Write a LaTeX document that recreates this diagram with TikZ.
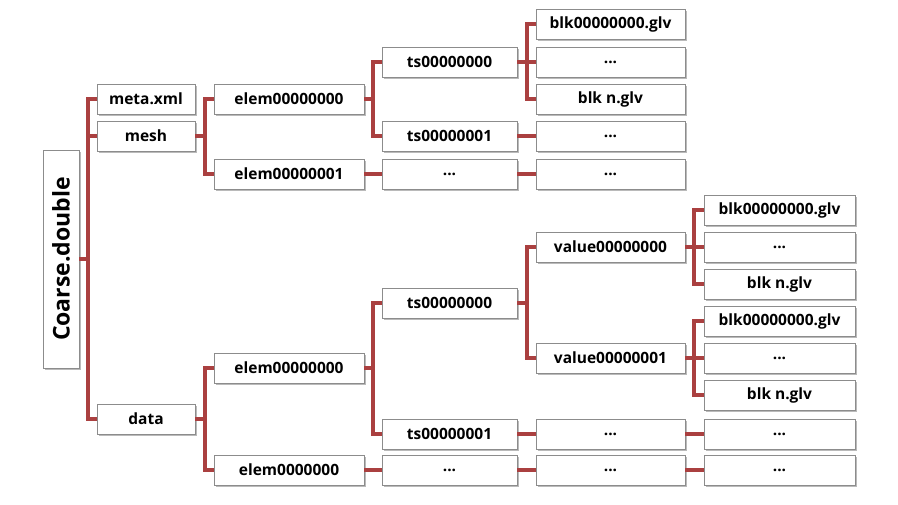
\documentclass[tikz,border=0pt]{standalone}
\usepackage{fontspec}
\setmainfont{Open Sans}
\usetikzlibrary{shadows}
\definecolor{conncol}{RGB}{170,64,64}
\definecolor{boxline}{RGB}{140,140,140}
\tikzset{
  box/.style={draw=boxline, line width=0.8pt, fill=white, minimum height=30pt, inner sep=0pt,
    font=\fontsize{15.5pt}{17pt}\selectfont\bfseries,
    drop shadow={shadow xshift=1.5pt, shadow yshift=-1.8pt, opacity=0.45, fill=black!60}},
  wA/.style={box, minimum width=98pt},
  wB/.style={box, minimum width=150pt},
  wC/.style={box, minimum width=135pt},
  wD/.style={box, minimum width=149pt},
  wE/.style={box, minimum width=151pt},
  conn/.style={draw=conncol, line width=3.3pt},
  bus/.style={conn, line cap=rect},
}
\newcommand\forkto[5]{%
  \draw[conn] (#1.east) -- (#1.east -| #2);
  \draw[bus] (#3.west -| #2) -- (#4.west -| #2);
  \foreach \cc in {#5} {\draw[conn] (\cc.west -| #2) -- (\cc.west);}
}
\begin{document}
\begin{tikzpicture}[x=1pt,y=-1pt]
\useasboundingbox (0,0) rectangle (898,505);
% bus x positions
\coordinate (b0) at (88,0);
\coordinate (b1) at (205,0);
\coordinate (b2) at (373,0);
\coordinate (b3) at (527,0);
\coordinate (b4) at (694,0);
% root
\node[box, minimum width=218pt, minimum height=36pt, rotate=90, font=\fontsize{23pt}{25pt}\selectfont\bfseries] (root) at (61,259) {Coarse.double};
% level 1
\node[wA] (meta) at (146,99) {meta.xml};
\node[wA] (mesh) at (146,136) {mesh};
\node[wA] (data) at (146,419) {data};
% level 2 mesh
\node[wB] (me0) at (289,99) {elem00000000};
\node[wB] (me1) at (289,174) {elem00000001};
% level 3 mesh
\node[wC] (mts0) at (449.5,62) {ts00000000};
\node[wC] (mts1) at (449.5,136) {ts00000001};
\node[wC] (mdot) at (449.5,174) {...};
% level 4 mesh
\node[wD] (mb0) at (610.5,24) {blk00000000.glv};
\node[wD] (mb1) at (610.5,62) {...};
\node[wD] (mb2) at (610.5,99) {blk n.glv};
\node[wD] (mb3) at (610.5,136) {...};
\node[wD] (mb4) at (610.5,174) {...};
% level 2 data
\node[wB] (de0) at (289,368) {elem00000000};
\node[wB] (de1) at (289,470) {elem0000000};
% level 3 data
\node[wC] (dts0) at (449.5,303) {ts00000000};
\node[wC] (dts1) at (449.5,434) {ts00000001};
\node[wC] (ddot) at (449.5,470) {...};
% level 4 data
\node[wD] (v0) at (610.5,247) {value00000000};
\node[wD] (v1) at (610.5,358) {value00000001};
\node[wD] (dd1) at (610.5,434) {...};
\node[wD] (dd2) at (610.5,470) {...};
% level 5 data
\node[wE] (va0) at (779.5,210) {blk00000000.glv};
\node[wE] (va1) at (779.5,247) {...};
\node[wE] (va2) at (779.5,284) {blk n.glv};
\node[wE] (vb0) at (779.5,321) {blk00000000.glv};
\node[wE] (vb1) at (779.5,358) {...};
\node[wE] (vb2) at (779.5,395) {blk n.glv};
\node[wE] (de1a) at (779.5,434) {...};
\node[wE] (de1b) at (779.5,470) {...};
% connectors
\draw[conn] (root.south) -- (root.south -| b0);
\draw[bus] (meta.west -| b0) -- (data.west -| b0);
\foreach \cc in {meta,mesh,data} {\draw[conn] (\cc.west -| b0) -- (\cc.west);}
\forkto{mesh}{b1}{me0}{me1}{me0,me1}
\forkto{me0}{b2}{mts0}{mts1}{mts0,mts1}
\draw[conn] (me1.east) -- (mdot.west);
\forkto{mts0}{b3}{mb0}{mb2}{mb0,mb1,mb2}
\draw[conn] (mts1.east) -- (mb3.west);
\draw[conn] (mdot.east) -- (mb4.west);
\forkto{data}{b1}{de0}{de1}{de0,de1}
\forkto{de0}{b2}{dts0}{dts1}{dts0,dts1}
\draw[conn] (de1.east) -- (ddot.west);
\forkto{dts0}{b3}{v0}{v1}{v0,v1}
\draw[conn] (dts1.east) -- (dd1.west);
\draw[conn] (ddot.east) -- (dd2.west);
\forkto{v0}{b4}{va0}{va2}{va0,va1,va2}
\forkto{v1}{b4}{vb0}{vb2}{vb0,vb1,vb2}
\draw[conn] (dd1.east) -- (de1a.west);
\draw[conn] (dd2.east) -- (de1b.west);
\end{tikzpicture}
\end{document}
